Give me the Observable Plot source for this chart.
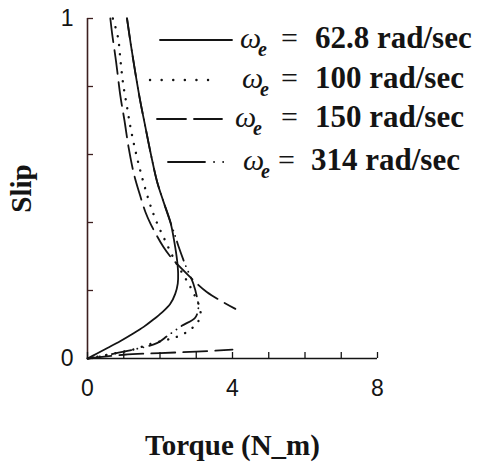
<!DOCTYPE html>
<html><head><meta charset="utf-8">
<script src="https://cdn.jsdelivr.net/npm/d3@7"></script>
<script src="https://cdn.jsdelivr.net/npm/@observablehq/plot@0.6"></script>
<style>
html,body{margin:0;padding:0;background:#fff;}
</style>
</head><body><div id="chart"></div>
<script>
// ---- data ----
const xTicks = [0, 1, 2, 3, 4, 5, 6, 7, 8];
const xTickLabels = [0, 4, 8];
const yTicks = [0, 0.2, 0.4, 0.6, 0.8, 1];
const yTickLabels = [0, 1];
const xLabel = "Torque (N_m)";
const yLabel = "Slip";
const seriesNames = ["62.8", "100", "150", "314"];
const legendValues = ["62.8 rad/sec", "100 rad/sec", "150 rad/sec", "314 rad/sec"];

// we = 62.8 rad/sec (solid)
const torque628 = [1.09, 1.2, 1.32, 1.45, 1.58, 1.75, 1.92, 2.1, 2.29, 2.4, 2.47, 2.5, 2.49, 2.42, 2.28, 2.05, 1.8, 1.55, 1.25, 0.9, 0.55, 0.25, 0];
const slip628   = [1.0, 0.92, 0.84, 0.76, 0.69, 0.6, 0.52, 0.46, 0.4, 0.34, 0.29, 0.25, 0.22, 0.19, 0.16, 0.135, 0.113, 0.093, 0.073, 0.051, 0.031, 0.014, 0];

// we = 100 rad/sec (dotted)
const torque100 = [0.7, 0.84, 0.91, 0.98, 1.09, 1.2, 1.4, 1.67, 1.88, 2.15, 2.4, 2.65, 2.84, 2.98, 3.08, 3.12, 3.1, 3.0, 2.85, 2.61, 2.29, 1.65, 1.32, 0.8, 0];
const slip100   = [1.0, 0.945, 0.876, 0.81, 0.74, 0.672, 0.576, 0.472, 0.408, 0.345, 0.29, 0.245, 0.21, 0.18, 0.155, 0.135, 0.12, 0.1, 0.087, 0.07, 0.058, 0.04, 0.028, 0.016, 0];

// we = 150 rad/sec (dashed), two visible branches
const torque150Upper = [0.63, 0.68, 0.79, 0.91, 1.02, 1.14, 1.28, 1.45, 1.6, 1.74, 2.1, 2.34, 2.79, 3.3, 4.08];
const slip150Upper   = [1.0, 0.955, 0.872, 0.77, 0.7, 0.617, 0.543, 0.48, 0.43, 0.396, 0.327, 0.293, 0.244, 0.195, 0.146];
const torque150Lower = [0, 1, 2, 3, 4];
const slip150Lower   = [0, 0.011, 0.016, 0.02, 0.026];

// we = 314 rad/sec (dash-dot)
const torque314 = [1.09, 1.2, 1.32, 1.45, 1.58, 1.75, 1.92, 2.1, 2.29, 2.42, 2.51, 2.7, 2.92, 3.02, 3.06, 2.97, 2.6, 2.2, 1.93, 1.0, 0];
const slip314   = [1.0, 0.92, 0.84, 0.76, 0.69, 0.6, 0.52, 0.46, 0.4, 0.36, 0.33, 0.275, 0.22, 0.18, 0.15, 0.12, 0.096, 0.066, 0.046, 0.02, 0];

// ---- build table ----
const rows = [];
function add(series, branch, T, S) { T.forEach((t, i) => rows.push({series, branch, torque: t, slip: S[i]})); }
add(seriesNames[0], "a", torque628, slip628);
add(seriesNames[1], "a", torque100, slip100);
add(seriesNames[2], "upper", torque150Upper, slip150Upper);
add(seriesNames[2], "lower", torque150Lower, slip150Lower);
add(seriesNames[3], "a", torque314, slip314);

const ink = "#141414";
const serif = "'Liberation Serif', 'Times New Roman', serif";
const styles = {
  "62.8": {dash: null, width: 1.8},
  "100": {dash: "0.1,9", width: 2.4},
  "150": {dash: "24,8", width: 1.8},
  "314": {dash: "20,6,0.1,6,0.1,6", width: 1.8}
};

const W = 481, H = 467, mL = 87, mR = 104, mT = 18, mB = 109;
const plotW = W - mL - mR, plotH = H - mT - mB;

const curveMarks = seriesNames.map(name => Plot.line(rows.filter(r => r.series === name), {
  x: "torque", y: "slip", z: "branch",
  stroke: ink, strokeWidth: styles[name].width,
  strokeDasharray: styles[name].dash, strokeLinecap: "round",
  curve: "catmull-rom"
}));

const plot = Plot.plot({
  width: W, height: H,
  marginLeft: mL, marginRight: mR, marginTop: mT, marginBottom: mB,
  style: {background: "#fff", color: ink, fontFamily: "'Liberation Sans', Arial, sans-serif", fontSize: "23px"},
  x: {domain: [0, 8], label: null},
  y: {domain: [0, 1], label: null},
  marks: [
    Plot.ruleX([0], {stroke: "#3d1f1f", strokeWidth: 1.6}),
    Plot.ruleY([0], {stroke: ink, strokeWidth: 1.6}),
    Plot.tickY(yTicks, {y: d => d, insetRight: plotW - 6, stroke: "#3d1f1f", strokeWidth: 1.3}),
    Plot.tickX(xTicks, {x: d => d, insetTop: plotH - 6, stroke: ink, strokeWidth: 1.3}),
    Plot.axisX({ticks: xTickLabels, tickSize: 0, tickPadding: 21, fontSize: 23, tickFormat: d => String(d), label: null}),
    Plot.axisY({ticks: yTickLabels, tickSize: 0, tickPadding: 14, fontSize: 23, tickFormat: d => String(d), label: null}),
    ...curveMarks,
    Plot.text([yLabel], {text: d => d, frameAnchor: "left", dx: -66, rotate: -90, textAnchor: "middle", lineAnchor: "middle", fontSize: 29, fontWeight: "bold", fontFamily: serif, fill: ink}),
    Plot.text([xLabel], {text: d => d, frameAnchor: "bottom", dy: 87, textAnchor: "middle", lineAnchor: "middle", fontSize: 29, fontWeight: "bold", fontFamily: serif, fill: ink})
  ]
});
document.getElementById("chart").appendChild(plot);

// ---- legend (drawn on top of the plot, upper right) ----
const legendLayout = [
  {base: 48, x1: 160, x2: 232, omegaX: 240, eqX: 281, valX: 315},
  {base: 88, x1: 150, x2: 218, omegaX: 242, eqX: 281, valX: 315},
  {base: 127, x1: 157, x2: 222, omegaX: 235, eqX: 281, valX: 315},
  {base: 170, x1: 168, x2: 228, omegaX: 243, eqX: 278, valX: 311}
];
const legendDash = ["", "0.1,11.5", "29,8", "37,9,0.1,9,0.1,100"];
const svg = d3.select(plot);
const leg = svg.append("g")
  .attr("font-family", serif).attr("fill", ink)
  .attr("text-anchor", "start").style("text-anchor", "start");
seriesNames.forEach((name, i) => {
  const L = legendLayout[i];
  const st = styles[name];
  leg.append("line")
    .attr("x1", L.x1).attr("x2", L.x2).attr("y1", L.base - 8).attr("y2", L.base - 8)
    .attr("stroke", ink).attr("stroke-width", st.width)
    .attr("stroke-linecap", "round")
    .attr("stroke-dasharray", legendDash[i] || null);
  leg.append("text").attr("x", L.omegaX).attr("y", L.base)
    .attr("font-size", 30).attr("font-style", "italic").text("ω");
  leg.append("text").attr("x", L.omegaX + 18).attr("y", L.base + 8)
    .attr("font-size", 20).attr("font-style", "italic").attr("font-weight", "bold").text("e");
  leg.append("text").attr("x", L.eqX).attr("y", L.base)
    .attr("font-size", 30).text("=");
  leg.append("text").attr("x", L.valX).attr("y", L.base)
    .attr("font-size", 31).attr("font-weight", "bold").text(legendValues[i]);
});
</script>
</body></html>
